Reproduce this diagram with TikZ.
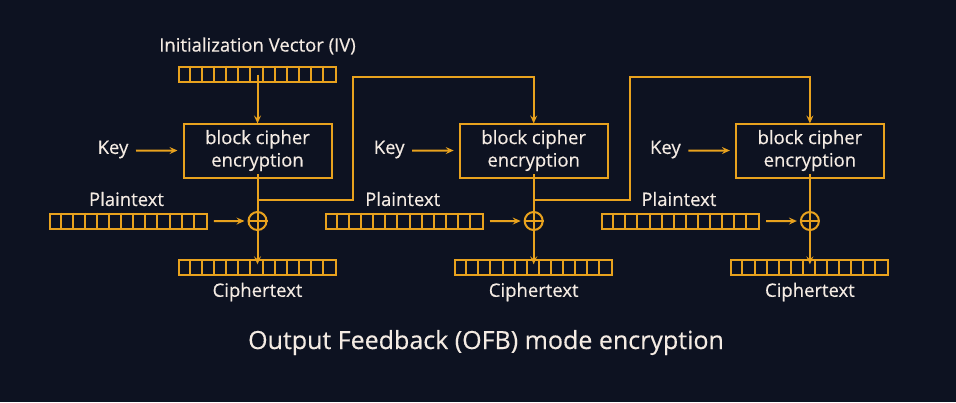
\documentclass[tikz,border=0pt]{standalone}
\usepackage{fontspec}
\setmainfont{Open Sans}
\newfontfamily\lblfont{Open Sans}[FakeBold=0.35]
\usetikzlibrary{arrows.meta}
\definecolor{bg}{HTML}{0D1221}
\definecolor{gold}{HTML}{E8A21E}
\definecolor{txt}{HTML}{F4EBE3}
\tikzset{
  ln/.style={draw=gold, line width=2pt},
  arr/.style={ln, -{Stealth[open, length=8pt, width=7pt, inset=3pt, line width=1.4pt]}},
  lbl/.style={text=txt, font=\lblfont\fontsize{18.5}{20}\selectfont, inner sep=0pt},
  cipherbox/.style={ln, rectangle, minimum width=148pt, minimum height=54pt, inner sep=0pt, text=txt, font=\lblfont\fontsize{18.5}{22.5}\selectfont, align=center},
  reg/.style={ln, rectangle, minimum width=157pt, minimum height=15pt, inner sep=0pt},
  xorc/.style={ln, circle, minimum size=18pt, inner sep=0pt},
}
\newcommand{\regcells}[1]{%
  \foreach \k in {1,...,12}{\draw[ln] ([xshift=\k*157pt/13]#1.north west) -- ([xshift=\k*157pt/13]#1.south west);}}
\begin{document}
\begin{tikzpicture}[x=1pt,y=-1pt]
\fill[bg] (0,0) rectangle (956,402);
\useasboundingbox (0,0) rectangle (956,402);
\node[lbl] (iv) at (257.5,46) {Initialization Vector (IV)};
\node[reg] (ivreg) at (257.5,74.2) {};
\regcells{ivreg}
\foreach \i/\dx in {1/0,2/276.2,3/552.4}{
  \node[cipherbox] (bc\i) at (257.5+\dx,150.5) {block cipher\\encryption};
  \node[lbl] (key\i) at (113+\dx,149.5) {Key};
  \coordinate (ks\i) at (136+\dx,150.7);
  \draw[arr] (ks\i) -- ([xshift=-5pt]bc\i.west);
  \node[lbl] (pt\i) at (126.5+\dx,199) {Plaintext};
  \node[reg] (ptreg\i) at (128.3+\dx,221.2) {};
  \regcells{ptreg\i}
  \node[xorc] (x\i) at (257.5+\dx,221) {};
  \draw[ln] (x\i.north) -- (x\i.south) (x\i.west) -- (x\i.east);
  \draw[arr] ([xshift=6pt]ptreg\i.east) -- ([xshift=-3pt]x\i.west);
  \draw[ln] ([yshift=4.5pt]bc\i.south) -- (x\i.north);
  \node[reg] (ctreg\i) at (257.5+\dx,267.8) {};
  \regcells{ctreg\i}
  \draw[arr] (x\i.south) -- ([yshift=-5pt]ctreg\i.north);
  \node[lbl] (ct\i) at (257.5+\dx,292) {Ciphertext};
}
\draw[arr] ([yshift=8pt]ivreg.south) -- ([yshift=-1pt]bc1.north);
\foreach \i/\j/\dx in {1/2/0,2/3/276.2}{
  \coordinate (br\i) at (257.5+\dx,200);
  \coordinate (fa\i) at (353.3+\dx,200);
  \coordinate (fb\i) at (353.3+\dx,77.2);
  \draw[arr] (br\i) -- (fa\i) -- (fb\i) -| ([yshift=-1pt]bc\j.north);
}
\node[text=txt, font=\lblfont\fontsize{25}{28}\selectfont, inner sep=0pt] (title) at (486,342.5) {Output Feedback (OFB) mode encryption};
\end{tikzpicture}
\end{document}
